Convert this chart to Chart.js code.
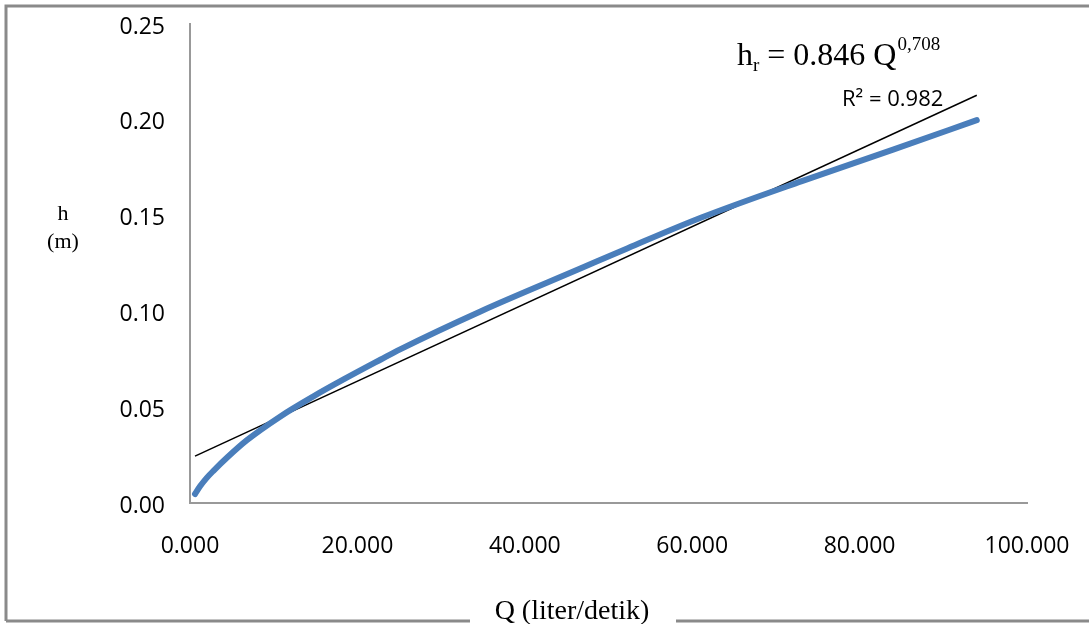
<!DOCTYPE html>
<html>
<head>
<meta charset="utf-8">
<script src="https://cdn.jsdelivr.net/npm/chart.js@4/dist/chart.umd.min.js"></script>
<style>
  html, body { margin: 0; padding: 0; background: #fff; }
  #wrap { width: 1089px; height: 624px; position: relative; }
</style>
</head>
<body>
<div id="wrap"><canvas id="rating"></canvas></div>
<script>
// measured curve Q (liter/detik) vs h (m)
const qValues = [0.6, 1.2, 2.0, 2.8, 4.5, 6.8, 10.8, 14.8, 18.4, 22.8, 25.1, 34.7, 46.7, 52.3, 61.1, 73.1, 84.0, 94.0];
const hValues = [0.0047, 0.0087, 0.0131, 0.0168, 0.0240, 0.0328, 0.0452, 0.0558, 0.0646, 0.0749, 0.0802, 0.1000, 0.1225, 0.1330, 0.1490, 0.1680, 0.1844, 0.1998];

// linear trend line end points
const trendQ = [0.6, 94.0];
const trendH = [0.0245, 0.2128];

const xTicks = [0, 20, 40, 60, 80, 100];
const yTicks = [0, 0.05, 0.10, 0.15, 0.20, 0.25];

const toPoints = (xs, ys) => xs.map((x, i) => ({ x: x, y: ys[i] }));

const frameAndText = {
    id: 'frameAndText',
    afterDraw(chart) {
        const ctx = chart.ctx;
        ctx.save();
        // outer frame
        ctx.strokeStyle = '#8a8a8a';
        ctx.lineWidth = 3;
        ctx.beginPath();
        ctx.moveTo(6, 621); ctx.lineTo(6, 6); ctx.lineTo(1089, 6);
        ctx.moveTo(6, 621); ctx.lineTo(470, 621);
        ctx.moveTo(676, 621); ctx.lineTo(1089, 621);
        ctx.stroke();

        ctx.fillStyle = '#000';
        // x title
        ctx.font = '28px "Liberation Serif", "Times New Roman", serif';
        ctx.textAlign = 'center';
        ctx.textBaseline = 'alphabetic';
        ctx.fillText('Q (liter/detik)', 572, 619);

        // y title
        ctx.font = '22px "Liberation Serif", "Times New Roman", serif';
        ctx.fillText('h', 63, 220);
        ctx.fillText('(m)', 63, 248);

        // equation
        ctx.textAlign = 'left';
        let x = 737;
        ctx.font = '32px "Liberation Serif", "Times New Roman", serif';
        ctx.fillText('h', x, 65);
        x += ctx.measureText('h').width;
        ctx.font = '19px "Liberation Serif", "Times New Roman", serif';
        ctx.fillText('r', x, 71);
        x += ctx.measureText('r').width;
        ctx.font = '32px "Liberation Serif", "Times New Roman", serif';
        ctx.fillText(' = 0.846 Q', x, 65);
        x += ctx.measureText(' = 0.846 Q').width + 1;
        ctx.font = '19px "Liberation Serif", "Times New Roman", serif';
        ctx.fillText('0,708', x, 50);

        // R squared
        ctx.font = '22px "Open Sans", sans-serif';
        ctx.fillText('R\u00B2 = 0.982', 842, 106);
        ctx.restore();
    }
};

const chart = new Chart(document.getElementById('rating'), {
    type: 'line',
    data: {
        datasets: [{
            label: 'h',
            data: toPoints(qValues, hValues),
            borderColor: '#4a7ebb',
            borderWidth: 6,
            borderCapStyle: 'round',
            pointRadius: 0,
            cubicInterpolationMode: 'monotone',
            fill: false
        }, {
            label: 'trend',
            data: toPoints(trendQ, trendH),
            borderColor: '#000',
            borderWidth: 1.5,
            pointRadius: 0,
            fill: false
        }]
    },
    options: {
        responsive: true,
        maintainAspectRatio: false,
        animation: false,
        layout: { padding: { left: 0, top: 24, right: 62, bottom: 0 } },
        plugins: {
            legend: { display: false },
            tooltip: { enabled: false }
        },
        scales: {
            x: {
                type: 'linear',
                min: 0,
                max: 100,
                afterBuildTicks: s => { s.ticks = xTicks.map(v => ({ value: v })); },
                grid: { display: false, drawTicks: false },
                border: { display: true, color: '#999', width: 2 },
                ticks: {
                    padding: 30,
                    color: '#000',
                    font: { family: '"Open Sans", sans-serif', size: 23 },
                    maxRotation: 0,
                    callback: v => v.toFixed(3)
                },
                afterFit: s => { s.height = 121; s.paddingLeft = 0; s.paddingRight = 0; }
            },
            y: {
                min: 0,
                max: 0.25,
                afterBuildTicks: s => { s.ticks = yTicks.map(v => ({ value: v })); },
                grid: { display: false, drawTicks: false },
                border: { display: true, color: '#999', width: 2 },
                ticks: {
                    padding: 25,
                    labelOffset: 3,
                    color: '#000',
                    font: { family: '"Open Sans", sans-serif', size: 23 },
                    callback: v => v.toFixed(2)
                },
                afterFit: s => { s.width = 190; s.paddingTop = 0; s.paddingBottom = 0; }
            }
        }
    },
    plugins: [frameAndText]
});
</script>
</body>
</html>
